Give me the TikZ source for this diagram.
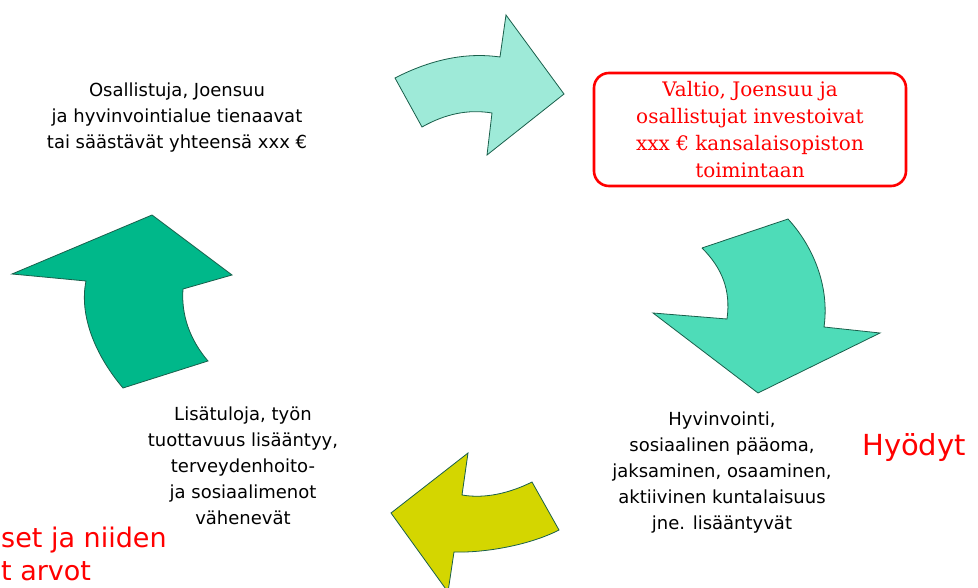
\documentclass[tikz,border=0pt]{standalone}
\usepackage{fontspec}
\setmainfont{DejaVu Sans}
\newfontfamily\boxfont{DejaVu Serif}
\usepackage{tikz}
\usetikzlibrary{positioning}
\definecolor{edgegreen}{RGB}{25,95,75}
\definecolor{aquaA}{RGB}{158,234,216}
\definecolor{aquaB}{RGB}{78,220,184}
\definecolor{greenC}{RGB}{0,184,138}
\definecolor{yellowD}{RGB}{212,214,0}
\tikzstyle{bend arrow} = [draw=edgegreen, line width=0.8pt, line join=miter]
\tikzstyle{phase} = [align=center, font=\fontsize{18}{26}\selectfont]
\tikzstyle{invest} = [rectangle, rounded corners=15pt, draw=red, line width=2.6pt, text=red,
  align=center, minimum width=312pt, minimum height=113pt, font=\boxfont\fontsize{20}{27}\selectfont]
\tikzstyle{tag} = [text=red, font=\fontsize{29}{35}\selectfont, inner sep=0pt]

\begin{document}
\begin{tikzpicture}[x=1pt,y=-1pt]
  \useasboundingbox (0,0) rectangle (978,588);
  % arrows round the cycle
  \fill[aquaA, bend arrow] (395,78) .. controls (430,60) and (465,52) .. (500,57)
    -- (506,15) -- (564,94) -- (487,155) -- (492,113)
    .. controls (468,109) and (445,114) .. (422,127) -- cycle;
  \fill[aquaB, bend arrow] (702,248) -- (788,219)
    .. controls (812,245) and (830,285) .. (824,327)
    -- (880,333) -- (758,393) -- (653,313) -- (727,319)
    .. controls (731,290) and (722,268) .. (702,248);
  \fill[yellowD, bend arrow] (391,513) -- (468,453) -- (462,495)
    .. controls (485,499) and (510,493) .. (532,482)
    -- (559,530) .. controls (530,545) and (485,553) .. (454,552)
    -- (448,592) -- cycle;
  \fill[greenC, bend arrow] (152,215) -- (232,275) -- (183,289)
    .. controls (181,315) and (190,340) .. (208,361)
    -- (123,388) .. controls (95,355) and (79,315) .. (86,281)
    -- (12,274) -- cycle;
  % texts
  \draw (177,118) node[phase](gain){Osallistuja, Joensuu\\ja hyvinvointialue tienaavat\\tai säästävät yhteensä xxx €};
  \draw (750,129.5) node[invest](money){Valtio, Joensuu ja\\osallistujat investoivat\\xxx € kansalaisopiston\\toimintaan};
  \draw (722,473) node[phase](welfare){Hyvinvointi,\\sosiaalinen pääoma,\\jaksaminen, osaaminen,\\aktiivinen kuntalaisuus\\jne. lisääntyvät};
  \draw (243,466) node[phase](income){Lisätuloja, työn\\tuottavuus lisääntyy,\\terveydenhoito-\\ja sosiaalimenot\\vähenevät};
  \draw (862,447) node[tag, anchor=west](benefit){Hyödyt};
  \draw (1,540) node[tag, anchor=west, font=\fontsize{27}{33}\selectfont](costA){set ja niiden};
  \draw (1,571) node[tag, anchor=west, font=\fontsize{27}{33}\selectfont](costB){t arvot};
\end{tikzpicture}
\end{document}
